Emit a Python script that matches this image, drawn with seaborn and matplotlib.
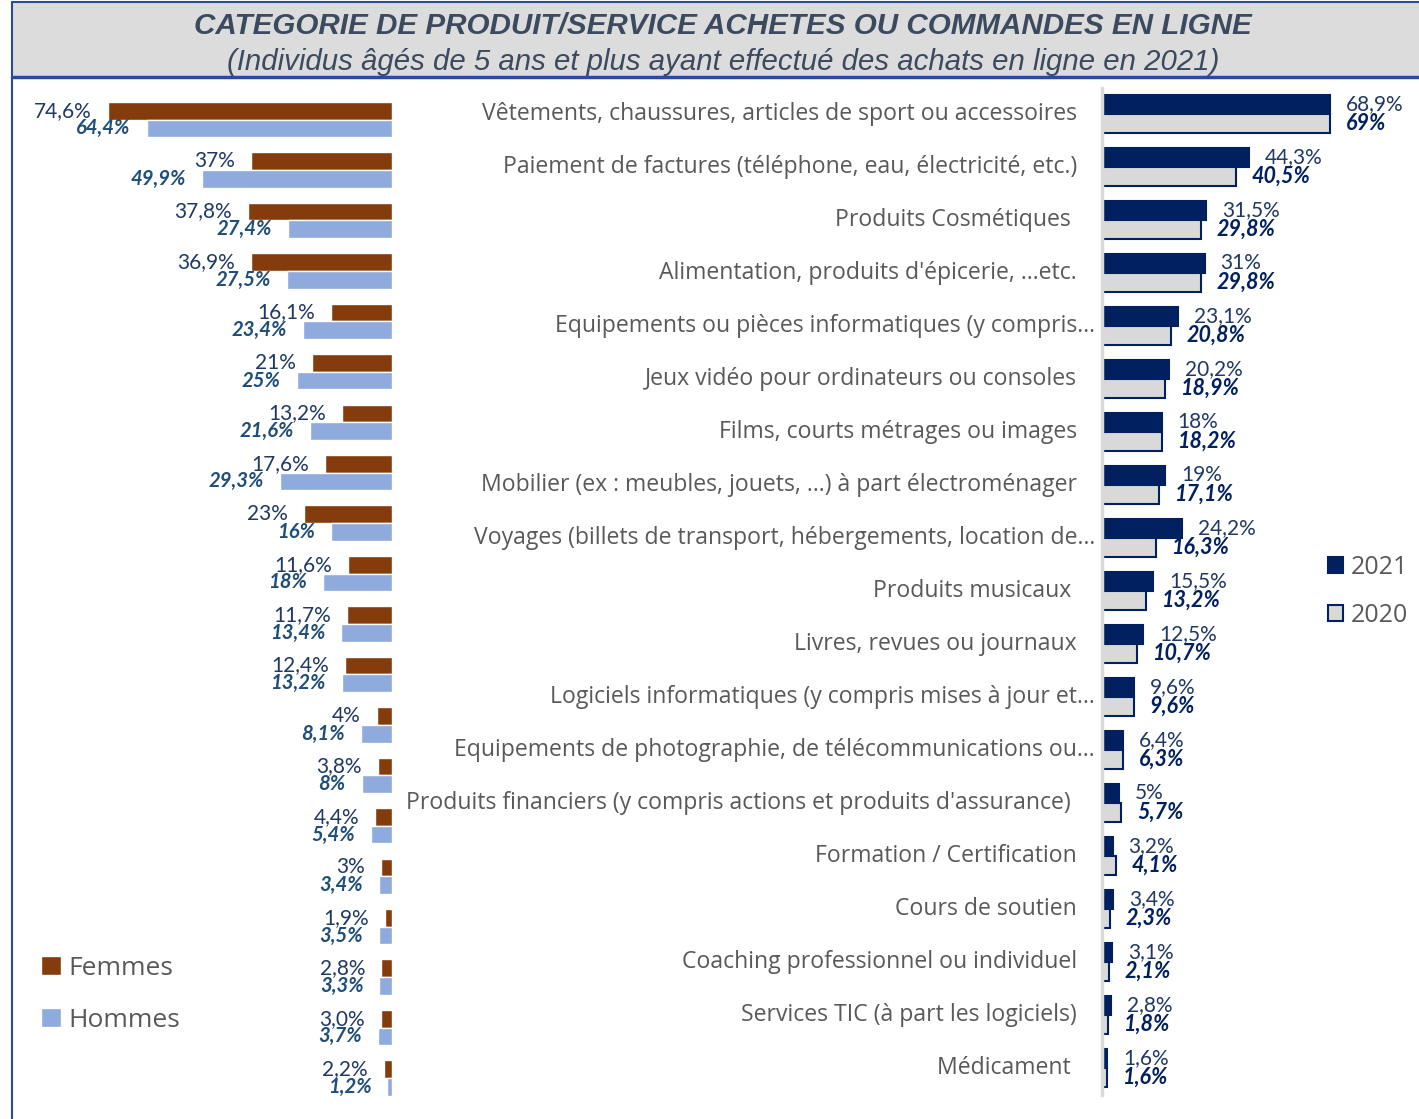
import matplotlib
matplotlib.use("Agg")
import matplotlib.pyplot as plt
import matplotlib.transforms as mtransforms
from matplotlib.patches import Rectangle
from matplotlib.lines import Line2D
import seaborn as sns
import pandas as pd

# Données
categories = [
    "Vêtements, chaussures, articles de sport ou accessoires",
    "Paiement de factures (téléphone, eau, électricité, etc.)",
    "Produits Cosmétiques ",
    "Alimentation, produits d'épicerie, …etc.",
    "Equipements ou pièces informatiques (y compris…",
    "Jeux vidéo pour ordinateurs ou consoles",
    "Films, courts métrages ou images",
    "Mobilier (ex : meubles, jouets, …) à part électroménager",
    "Voyages (billets de transport, hébergements, location de…",
    "Produits musicaux ",
    "Livres, revues ou journaux",
    "Logiciels informatiques (y compris mises à jour et…",
    "Equipements de photographie, de télécommunications ou…",
    "Produits financiers (y compris actions et produits d'assurance) ",
    "Formation / Certification",
    "Cours de soutien",
    "Coaching professionnel ou individuel",
    "Services TIC (à part les logiciels)",
    "Médicament ",
]
annee_2021 = ["68,9", "44,3", "31,5", "31", "23,1", "20,2", "18", "19", "24,2", "15,5",
              "12,5", "9,6", "6,4", "5", "3,2", "3,4", "3,1", "2,8", "1,6"]
annee_2020 = ["69", "40,5", "29,8", "29,8", "20,8", "18,9", "18,2", "17,1", "16,3", "13,2",
              "10,7", "9,6", "6,3", "5,7", "4,1", "2,3", "2,1", "1,8", "1,6"]

femmes = ["74,6", "37", "37,8", "36,9", "16,1", "21", "13,2", "17,6", "23", "11,6",
          "11,7", "12,4", "4", "3,8", "4,4", "3", "1,9", "2,8", "3,0", "2,2"]
hommes = ["64,4", "49,9", "27,4", "27,5", "23,4", "25", "21,6", "29,3", "16", "18",
          "13,4", "13,2", "8,1", "8", "5,4", "3,4", "3,5", "3,3", "3,7", "1,2"]

title_1 = "CATEGORIE DE PRODUIT/SERVICE ACHETES OU COMMANDES EN LIGNE"
title_2 = "(Individus âgés de 5 ans et plus ayant effectué des achats en ligne en 2021)"


def to_num(s):
    return float(s.replace(",", "."))


sns.set_theme(style="white")
plt.rcParams['font.family'] = ['Lato', 'DejaVu Sans']
label_font = ['Open Sans', 'DejaVu Sans']

W, H = 1419, 1119
fig = plt.figure(figsize=(W / 100, H / 100), dpi=100)


def px_axes(x0, y0, x1, y1):
    return fig.add_axes([x0 / W, 1 - y1 / H, (x1 - x0) / W, (y1 - y0) / H])


# bandeau du titre
fig.patches.append(Rectangle((12 / W, 1 - 77 / H), 1 - 12 / W, 75 / H,
                             transform=fig.transFigure, facecolor="#DCDCDC", edgecolor="none"))
fig.lines.append(Line2D([12 / W, 1], [1 - 2 / H, 1 - 2 / H], transform=fig.transFigure,
                        color="#2B4C9B", lw=1.5))
fig.lines.append(Line2D([12 / W, 1], [1 - 77 / H, 1 - 77 / H], transform=fig.transFigure,
                        color="#2B4C9B", lw=2.5))
fig.lines.append(Line2D([12 / W, 12 / W], [0, 1 - 2 / H], transform=fig.transFigure,
                        color="#2B4C9B", lw=1.5))
title_font = ['Liberation Sans Narrow', 'Liberation Sans', 'DejaVu Sans']
fig.text(723 / W, 1 - 26 / H, title_1, ha="center", va="center", fontsize=21.3,
         fontweight="bold", style="italic", color="#3B4A5F", family=title_font)
fig.text(723 / W, 1 - 62 / H, title_2, ha="center", va="center", fontsize=21.2,
         style="italic", color="#3B4A5F", family=title_font)

# ---- panneau gauche : Femmes / Hommes ----
n_g = len(femmes)
rows = [str(i) for i in range(n_g)]
df_g = pd.DataFrame({
    "ligne": rows * 2,
    "sexe": ["Femmes"] * n_g + ["Hommes"] * n_g,
    "valeur": [to_num(v) for v in femmes] + [to_num(v) for v in hommes],
})
ax_l = px_axes(12, 94.3, 392, 1103.2)
sns.barplot(data=df_g, x="valeur", y="ligne", hue="sexe", orient="h",
            hue_order=["Femmes", "Hommes"], palette=["#843C0C", "#8FAADC"],
            width=0.7, saturation=1, ax=ax_l)
ax_l.set_xlim(99.7, 0)
ax_l.set_ylim(n_g - 0.5, -0.5)
ax_l.bar_label(ax_l.containers[0], labels=[v + "%" for v in femmes], padding=11.5,
               fontsize=15, color="#1F3864")
ax_l.bar_label(ax_l.containers[1], labels=[v + "%" for v in hommes], padding=11.5,
               fontsize=14.6, color="#1F4E79", fontweight="bold", style="italic")
ax_l.set_axis_off()
sns.move_legend(ax_l, loc="upper left", bbox_to_anchor=(41 / W, 1 - 956 / H),
                bbox_transform=fig.transFigure, frameon=False, title=None,
                prop={"family": label_font, "size": 19}, handlelength=0.75,
                handleheight=0.75, handletextpad=0.3, labelspacing=1.02, borderpad=0,
                borderaxespad=0, labelcolor="#595959")

# ---- panneau droit : 2021 / 2020 ----
n_a = len(categories)
df_a = pd.DataFrame({
    "categorie": categories * 2,
    "annee": ["2021"] * n_a + ["2020"] * n_a,
    "valeur": [to_num(v) for v in annee_2021] + [to_num(v) for v in annee_2020],
})
ax_r = px_axes(1102, 87.5, 1419, 1094.5)
sns.barplot(data=df_a, x="valeur", y="categorie", hue="annee", orient="h",
            hue_order=["2021", "2020"], palette=["#002060", "#D9D9D9"],
            width=0.72, saturation=1, edgecolor="#002060", linewidth=1.5, ax=ax_r)
ax_r.set_xlim(0, 95.8)
ax_r.set_ylim(n_a - 0.5, -0.5)
ax_r.bar_label(ax_r.containers[0], labels=[v + "%" for v in annee_2021], padding=11.5,
               fontsize=15, color="#1F3864")
ax_r.bar_label(ax_r.containers[1], labels=[v + "%" for v in annee_2020], padding=11.5,
               fontsize=15.5, color="#002060", fontweight="bold", style="italic")
for s in ["top", "right", "bottom"]:
    ax_r.spines[s].set_visible(False)
ax_r.spines["left"].set_color("#D9D9D9")
ax_r.spines["left"].set_linewidth(2.5)
ax_r.set_xticks([])
ax_r.set_yticks([])
ax_r.set_xlabel("")
ax_r.set_ylabel("")

base = ax_r.get_yaxis_transform()
for i, cat in enumerate(categories):
    shift = -7 if cat.endswith("…") else -25
    tr = mtransforms.offset_copy(base, fig=fig, x=shift, y=0, units="dots")
    ax_r.text(0, i, cat, transform=tr, ha="right", va="center", fontsize=16.6,
              color="#595959", family=label_font)

sns.move_legend(ax_r, loc="upper left", bbox_to_anchor=(1328 / W, 1 - 555 / H),
                bbox_transform=fig.transFigure, frameon=False, title=None,
                prop={"family": label_font, "size": 18}, handlelength=0.6,
                handleheight=0.6, handletextpad=0.3, labelspacing=0.92, borderpad=0,
                borderaxespad=0, labelcolor="#595959")
for h in ax_r.get_legend().legend_handles:
    h.set_edgecolor("#002060")
    h.set_linewidth(1.5)

fig.savefig("out.png", dpi=100)
